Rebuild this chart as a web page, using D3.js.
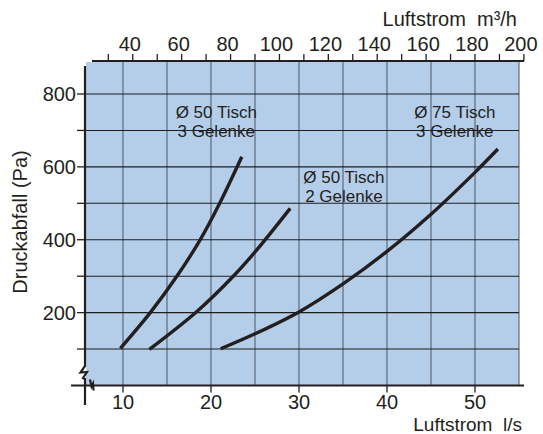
<!DOCTYPE html>
<html><head><meta charset="utf-8">
<script src="https://cdn.jsdelivr.net/npm/d3@7"></script>
<style>
html,body{margin:0;padding:0;background:#fff;}
svg{display:block;font-family:"Liberation Sans",Arial,Helvetica,sans-serif;}
</style></head>
<body><svg id="c" width="543" height="434"></svg>
<script>
// Data (flow in l/s, pressure drop in Pa)
const seriesNames = ["Ø 50 Tisch|3 Gelenke", "Ø 50 Tisch|2 Gelenke", "Ø 75 Tisch|3 Gelenke"];
const curve50x3 = [[9.7,102],[13.1,200],[16.1,299],[18.75,399],[21.0,501],[23.5,628]];
const curve50x2 = [[13.0,99],[18.4,203],[22.5,299],[25.2,372],[29.0,486]];
const curve75x3 = [[21.1,101],[25,142],[30,202],[35,279],[40,368],[45,470],[50,585],[52.6,649]];
const xTicksLs = [10,20,30,40,50];
const xTicksM3h = [40,60,80,100,120,140,160,180,200];
const yTicks = [200,400,600,800];
const labelAnchors = [[20.6,733],[35.1,555],[47.7,733]]; // data coords of label first-line baselines

const svg = d3.select("#c");
const x = d3.scaleLinear().domain([10,50]).range([123,475]);
const xM = d3.scaleLinear().domain([36,180]).range([x(10),x(50)]); // m3/h = 3.6 * l/s
const y = d3.scaleLinear().domain([0,800]).range([385.5,94]);

const pL = 86, pR = x(55), pT = 62, pB = y(0);
const ink = "#231f20";

svg.append("rect").attr("x",pL).attr("y",pT).attr("width",pR-pL).attr("height",pB-pT).attr("fill","#b4cde9");

// vertical grid
svg.append("g").selectAll("line").data(d3.range(10,56,5)).join("line")
  .attr("x1",d=>x(d)).attr("x2",d=>x(d)).attr("y1",pT).attr("y2",pB)
  .attr("stroke","#56606e").attr("stroke-width",1.1);
// horizontal grid
svg.append("g").selectAll("line").data(d3.range(100,801,100)).join("line")
  .attr("x1",pL).attr("x2",pR).attr("y1",d=>y(d)).attr("y2",d=>y(d))
  .attr("stroke","#1e1e1e").attr("stroke-width",1.1);

// top axis
const topG = svg.append("g").attr("transform",`translate(0,${pT-1})`);
topG.append("line").attr("x1",92).attr("x2",524).attr("stroke",ink).attr("stroke-width",2.2);
topG.selectAll("line.t").data(d3.range(30,201,10)).join("line").attr("class","t")
  .attr("x1",d=>xM(d)).attr("x2",d=>xM(d)).attr("y1",0).attr("y2",-7)
  .attr("stroke",ink).attr("stroke-width",1.3);
topG.selectAll("text").data(xTicksM3h).join("text")
  .attr("x",d=>xM(d)-3).attr("y",-10).attr("text-anchor","middle")
  .attr("font-size",20).attr("fill",ink).text(d=>d);
svg.append("text").attr("x",517).attr("y",26).attr("text-anchor","end").attr("font-size",20)
  .attr("fill",ink).attr("xml:space","preserve").text("Luftstrom  m³/h");

// bottom axis
const botG = svg.append("g").attr("transform",`translate(0,${pB})`);
botG.append("line").attr("x1",71).attr("x2",524).attr("stroke",ink).attr("stroke-width",2.2);
botG.selectAll("line.t").data(xTicksLs).join("line").attr("class","t")
  .attr("x1",d=>x(d)).attr("x2",d=>x(d)).attr("y1",0).attr("y2",7)
  .attr("stroke",ink).attr("stroke-width",1.3);
botG.selectAll("text").data(xTicksLs).join("text")
  .attr("x",d=>x(d)).attr("y",23.5).attr("text-anchor","middle")
  .attr("font-size",20).attr("fill",ink).text(d=>d);
svg.append("text").attr("x",522).attr("y",430.5).attr("text-anchor","end").attr("font-size",19)
  .attr("fill",ink).attr("xml:space","preserve").text("Luftstrom  l/s");
// break mark on bottom axis
svg.append("path").attr("d",`M90,${pB-6} L91.5,${pB+1} L93,${pB-2} L93.5,${pB+5}`)
  .attr("fill","none").attr("stroke",ink).attr("stroke-width",2.2);

// left axis with break
svg.append("path").attr("d",`M85,66 V366 L80.5,372.5 L87,372 L83,378 L85,379 V405`)
  .attr("fill","none").attr("stroke",ink).attr("stroke-width",2.2).attr("stroke-linejoin","miter");
svg.append("g").selectAll("line").data(d3.range(100,801,100)).join("line")
  .attr("x1",77).attr("x2",85).attr("y1",d=>y(d)).attr("y2",d=>y(d))
  .attr("stroke",ink).attr("stroke-width",1.3);
svg.append("g").selectAll("text").data(yTicks).join("text")
  .attr("x",76).attr("y",d=>y(d)+7).attr("text-anchor","end")
  .attr("font-size",20).attr("fill",ink).text(d=>d);
svg.append("text").attr("transform","translate(27,222) rotate(-90)").attr("text-anchor","middle")
  .attr("font-size",20).attr("fill",ink).text("Druckabfall (Pa)");

// curves
const line = d3.line().x(d=>x(d[0])).y(d=>y(d[1])).curve(d3.curveCatmullRom.alpha(0.5));
[curve50x3,curve50x2,curve75x3].forEach(c=>{
  svg.append("path").attr("d",line(c)).attr("fill","none").attr("stroke",ink).attr("stroke-width",3.4);
});

// curve labels
seriesNames.forEach((n,i)=>{
  const [l1,l2] = n.split("|");
  const t = svg.append("text").attr("text-anchor","middle").attr("font-size",17).attr("fill",ink);
  const cx = x(labelAnchors[i][0]), cy = y(labelAnchors[i][1]);
  t.append("tspan").attr("x",cx).attr("y",cy).text(l1);
  t.append("tspan").attr("x",cx).attr("y",cy+19).text(l2);
});
</script></body></html>
